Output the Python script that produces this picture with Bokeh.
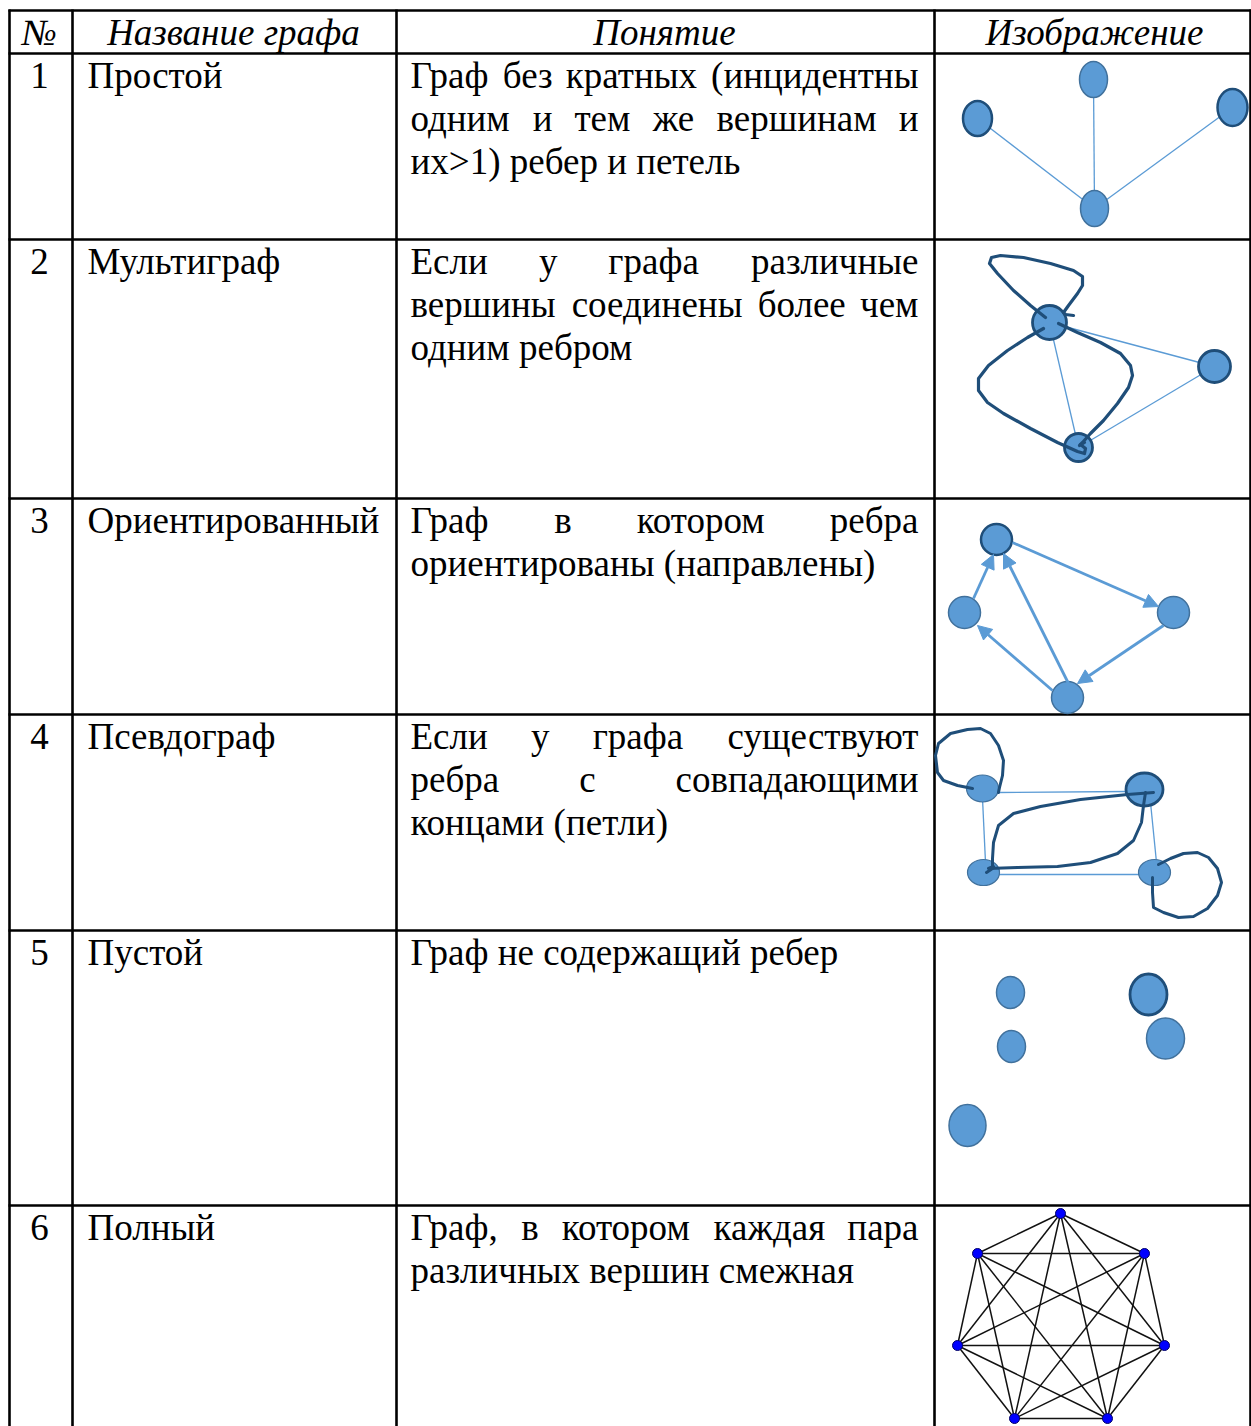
from itertools import combinations
from bokeh.plotting import figure
from bokeh.models import Range1d, Arrow, NormalHead
from bokeh.core.properties import value
from bokeh.embed import file_html
from bokeh.resources import INLINE

# ---------------- data ----------------
header_labels = ["№", "Название графа", "Понятие", "Изображение"]
row_numbers = ["1", "2", "3", "4", "5", "6"]
graph_names = ["Простой", "Мультиграф", "Ориентированный", "Псевдограф", "Пустой", "Полный"]
definitions = [
    ["Граф без кратных (инцидентны", "одним и тем же вершинам и", "их>1) ребер и петель"],
    ["Если у графа различные", "вершины соединены более чем", "одним ребром"],
    ["Граф в котором ребра", "ориентированы (направлены)"],
    ["Если у графа существуют", "ребра с совпадающими", "концами (петли)"],
    ["Граф не содержащий ребер"],
    ["Граф, в котором каждая пара", "различных вершин смежная"],
]

# graph 1: simple graph (star)
g1_x = [1093, 977, 1232, 1094]
g1_y = [79, 118, 107, 208]
g1_w = [28, 29, 30, 28]
g1_h = [36, 35, 37, 36]
g1_dark = [False, True, True, False]
g1_edges = [(0, 3), (1, 3), (2, 3)]

# graph 2: multigraph
g2_x = [1049, 1214, 1078]
g2_y = [322, 366, 447]
g2_d = [34, 32, 28]
g2_edges = [(0, 1), (1, 2), (0, 2)]
g2_curve_loop_x = [1045, 1030, 1013, 997, 989, 991, 1000, 1023, 1050, 1073, 1082, 1082, 1077, 1068, 1063, 1065, 1073]
g2_curve_loop_y = [317, 305, 290, 273, 263, 257, 255, 257, 263, 270, 276, 285, 293, 305, 312, 314, 315]
g2_curve_left_x = [1043, 1027, 1007, 988, 978, 978, 987, 1003, 1030, 1057, 1077, 1084, 1085, 1080]
g2_curve_left_y = [328, 337, 350, 365, 378, 390, 402, 413, 428, 442, 451, 453, 448, 444]
g2_curve_right_x = [1058, 1077, 1100, 1120, 1130, 1132, 1128, 1117, 1103, 1090, 1082, 1079, 1084]
g2_curve_right_y = [323, 332, 342, 353, 365, 375, 387, 403, 420, 433, 442, 445, 442]

# graph 3: directed graph
g3_x = [996, 964, 1173, 1067]
g3_y = [539, 612, 612, 697]
g3_d = [31, 32, 32, 32]
g3_dark = [True, False, False, False]
g3_arrow_x0 = [1012, 1163, 1052, 973, 1068]
g3_arrow_y0 = [542, 625, 690, 598, 683]
g3_arrow_x1 = [1158, 1077, 977, 993, 1003]
g3_arrow_y1 = [606, 683, 625, 554, 553]

# graph 4: pseudograph
g4_x = [982, 1144, 983, 1154]
g4_y = [788, 789, 872, 872]
g4_w = [32, 37, 32, 32]
g4_h = [27, 33, 26, 26]
g4_dark = [False, True, False, False]
g4_edge_x0 = [997, 998, 982, 1150]
g4_edge_y0 = [792, 874, 798, 802]
g4_edge_x1 = [1127, 1139, 985, 1156]
g4_edge_y1 = [791, 874, 862, 862]
g4_loop1_x = [972, 957, 943, 937, 935, 938, 950, 967, 980, 990, 998, 1003, 1002, 999, 998]
g4_loop1_y = [788, 785, 780, 772, 755, 743, 733, 729, 728, 733, 745, 760, 775, 787, 792]
g4_arc1_x = [1153, 1127, 1080, 1040, 1013, 998, 993, 992, 992, 986]
g4_arc1_y = [792, 794, 799, 806, 813, 825, 842, 858, 868, 872]
g4_arc2_x = [993, 988, 1017, 1057, 1090, 1117, 1133, 1141, 1143, 1145]
g4_arc2_y = [866, 868, 867, 866, 862, 853, 840, 822, 805, 792]
g4_loop2_x = [1158, 1170, 1183, 1197, 1208, 1217, 1221, 1217, 1207, 1193, 1178, 1163, 1153, 1152, 1152]
g4_loop2_y = [864, 858, 853, 852, 857, 868, 882, 895, 908, 916, 917, 912, 907, 892, 877]

# graph 5: empty graph
g5_x = [1010, 1011, 1148, 1165, 967]
g5_y = [992, 1046, 994, 1038, 1125]
g5_w = [28, 28, 37, 38, 37]
g5_h = [32, 32, 41, 41, 42]
g5_dark = [False, False, True, False, False]

# graph 6: complete graph K7
g6_x = [1060, 1144, 1164, 1107, 1014, 957, 977]
g6_y = [1213, 1253, 1345, 1418, 1418, 1345, 1253]

# ---------------- style / layout ----------------
FILL = "#5B9BD5"
LIGHT_LINE = "#41719C"
DARK_LINE = "#1F4E79"
FONT = value("Liberation Serif")
FSIZE = 37
FS = f"{FSIZE}px"

# approximate advance widths (em) of the serif font, used only to justify lines
ADV = dict(zip("абвгдежзийклмнопрстуфхцчшщъыьэюя",
               [.444, .51, .472, .41, .509, .444, .692, .395, .535, .535, .486, .503, .624, .535, .5, .535,
                .5, .444, .437, .5, .648, .5, .535, .503, .77, .77, .517, .7, .456, .429, .747, .486]))
ADV.update({"Г": .578, "Е": .611, "(": .333, ")": .333, ",": .25, ">": .564, "1": .5, " ": .25})


def text_width(s):
    return sum(ADV.get(c, .5) for c in s) * FSIZE


W, H = 1251, 1426
p = figure(width=W, height=H, x_range=Range1d(0, W), y_range=Range1d(H, 0),
           output_backend="svg", toolbar_location=None, min_border=0,
           x_axis_location=None, y_axis_location=None)
p.grid.visible = False
p.outline_line_color = None

# table grid
col_lines = [9, 72, 396, 934, 1250]
row_lines = [10, 53, 239, 498, 714, 930, 1205]
p.segment(x0=col_lines, y0=[9] * len(col_lines), x1=col_lines, y1=[1440] * len(col_lines),
          line_color="black", line_width=2.6)
p.segment(x0=[8] * len(row_lines), y0=row_lines, x1=[1260] * len(row_lines), y1=row_lines,
          line_color="black", line_width=2.6)

BASE = 22   # text anchor below a row's top line
LEAD = 43   # line spacing

# header
header_cx = [39, 233, 664, 1094]
p.text(x=header_cx, y=[row_lines[0] + BASE] * 4, text=header_labels, text_font=FONT, text_font_size=FS,
       text_font_style="italic", text_align="center", text_baseline="alphabetic", text_color="black")

row_tops = row_lines[1:]
p.text(x=[39] * 6, y=[t + BASE for t in row_tops], text=row_numbers, text_font=FONT, text_font_size=FS,
       text_align="center", text_baseline="alphabetic", text_color="black")
p.text(x=[87] * 6, y=[t + BASE for t in row_tops], text=graph_names, text_font=FONT, text_font_size=FS,
       text_align="left", text_baseline="alphabetic", text_color="black")

# definition column: justified paragraphs (last line of each paragraph left aligned)
TX0, TX1 = 410, 918
wx, wy, wt, wa = [], [], [], []
for r, lines in enumerate(definitions):
    for li, line in enumerate(lines):
        y = row_tops[r] + BASE + li * LEAD
        words = line.split(" ")
        last = li == len(lines) - 1
        if last or len(words) < 2:
            wx.append(TX0); wy.append(y); wt.append(line); wa.append("left")
            continue
        widths = [text_width(w_) for w_ in words]
        gap = (TX1 - TX0 - sum(widths)) / (len(words) - 1)
        cur = TX0
        for k, (w_, ww) in enumerate(zip(words, widths)):
            if k == 0:
                wx.append(TX0); wa.append("left")
            elif k == len(words) - 1:
                wx.append(TX1); wa.append("right")
            else:
                wx.append(cur + ww / 2); wa.append("center")
            wy.append(y); wt.append(w_)
            cur += ww + gap
p.text(x=wx, y=wy, text=wt, text_align=wa, text_font=FONT, text_font_size=FS,
       text_baseline="alphabetic", text_color="black")

# ---- graph 1
p.segment(x0=[g1_x[a] for a, b in g1_edges], y0=[g1_y[a] for a, b in g1_edges],
          x1=[g1_x[b] for a, b in g1_edges], y1=[g1_y[b] for a, b in g1_edges],
          line_color=FILL, line_width=1.3)
p.ellipse(x=g1_x, y=g1_y, width=g1_w, height=g1_h, fill_color=FILL,
          line_color=[DARK_LINE if d else LIGHT_LINE for d in g1_dark],
          line_width=[2.5 if d else 1.5 for d in g1_dark])

# ---- graph 2
p.segment(x0=[g2_x[a] for a, b in g2_edges], y0=[g2_y[a] for a, b in g2_edges],
          x1=[g2_x[b] for a, b in g2_edges], y1=[g2_y[b] for a, b in g2_edges],
          line_color=FILL, line_width=1.3)
p.ellipse(x=g2_x, y=g2_y, width=g2_d, height=g2_d, fill_color=FILL, line_color=DARK_LINE, line_width=2.8)
p.multi_line(xs=[g2_curve_loop_x, g2_curve_left_x, g2_curve_right_x],
             ys=[g2_curve_loop_y, g2_curve_left_y, g2_curve_right_y],
             line_color=DARK_LINE, line_width=3.2, line_join="round", line_cap="round")

# ---- graph 3
for x0, y0, x1, y1 in zip(g3_arrow_x0, g3_arrow_y0, g3_arrow_x1, g3_arrow_y1):
    p.add_layout(Arrow(end=NormalHead(size=14, fill_color=FILL, line_color=FILL, line_width=1),
                       x_start=x0, y_start=y0, x_end=x1, y_end=y1,
                       line_color=FILL, line_width=2.8))
p.ellipse(x=g3_x, y=g3_y, width=g3_d, height=g3_d, fill_color=FILL,
          line_color=[DARK_LINE if d else LIGHT_LINE for d in g3_dark],
          line_width=[2.5 if d else 1.5 for d in g3_dark])

# ---- graph 4
p.segment(x0=g4_edge_x0, y0=g4_edge_y0, x1=g4_edge_x1, y1=g4_edge_y1, line_color=FILL, line_width=1.3)
p.ellipse(x=g4_x, y=g4_y, width=g4_w, height=g4_h, fill_color=FILL,
          line_color=[DARK_LINE if d else LIGHT_LINE for d in g4_dark],
          line_width=[2.8 if d else 1.2 for d in g4_dark])
p.multi_line(xs=[g4_loop1_x, g4_arc1_x, g4_arc2_x, g4_loop2_x],
             ys=[g4_loop1_y, g4_arc1_y, g4_arc2_y, g4_loop2_y],
             line_color=DARK_LINE, line_width=3.0, line_join="round", line_cap="round")

# ---- graph 5
p.ellipse(x=g5_x, y=g5_y, width=g5_w, height=g5_h, fill_color=FILL,
          line_color=[DARK_LINE if d else LIGHT_LINE for d in g5_dark],
          line_width=[2.8 if d else 1.5 for d in g5_dark])

# ---- graph 6
pairs = list(combinations(range(len(g6_x)), 2))
p.segment(x0=[g6_x[a] for a, b in pairs], y0=[g6_y[a] for a, b in pairs],
          x1=[g6_x[b] for a, b in pairs], y1=[g6_y[b] for a, b in pairs],
          line_color="#111111", line_width=1.5)
p.scatter(x=g6_x, y=g6_y, size=10, fill_color="#0000FF", line_color="#000066", line_width=1)

open("out.html", "w").write(file_html(p, INLINE))
